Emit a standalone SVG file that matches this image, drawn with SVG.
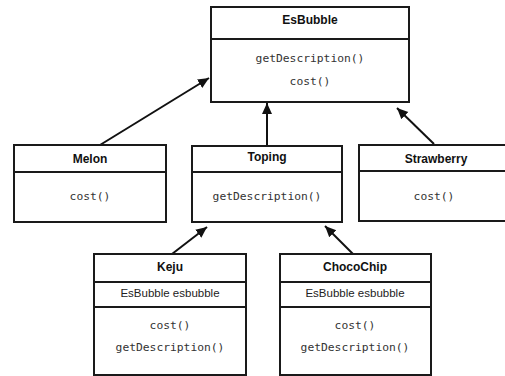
<svg xmlns="http://www.w3.org/2000/svg" width="505" height="376" viewBox="0 0 505 376">
<style>
.box{fill:#fff;stroke:#1a1a1a;stroke-width:2}
.div{stroke:#1a1a1a;stroke-width:2}
.t{font-family:"Liberation Sans",Arial,sans-serif;font-weight:bold;font-size:12px;fill:#111;text-anchor:middle}
.f{font-family:"Liberation Sans",Arial,sans-serif;font-size:11.5px;fill:#222;text-anchor:middle}
.m{font-family:"DejaVu Sans Mono",monospace;font-size:11.3px;fill:#333;text-anchor:middle}
.c{stroke:#111;stroke-width:2;fill:none;marker-end:url(#ah)}
</style>
<defs>
<marker id="ah" markerUnits="userSpaceOnUse" markerWidth="12" markerHeight="12" viewBox="0 0 12 12" refX="11" refY="6" orient="auto">
<path d="M0,1 L11,6 L0,11 Z" fill="#111"/>
</marker>
</defs>
<rect width="505" height="376" fill="#fff"/>
<g id="connectors">
<line class="c" x1="100" y1="145" x2="209" y2="78"/>
<line class="c" x1="267" y1="146" x2="267" y2="103"/>
<line class="c" x1="434" y1="144" x2="397" y2="108"/>
<line class="c" x1="172" y1="254" x2="207" y2="227"/>
<line class="c" x1="353" y1="254" x2="325" y2="226"/>
</g>
<g id="EsBubble">
<rect class="box" x="211" y="7" width="198" height="95"/>
<line class="div" x1="211" y1="39" x2="409" y2="39"/>
<text class="t" x="310" y="24">EsBubble</text>
<text class="m" x="310" y="62">getDescription()</text>
<text class="m" x="310" y="85">cost()</text>
</g>
<g id="Melon">
<rect class="box" x="14" y="145" width="152" height="77"/>
<line class="div" x1="14" y1="172" x2="166" y2="172"/>
<text class="t" x="90" y="163">Melon</text>
<text class="m" x="90" y="200">cost()</text>
</g>
<g id="Toping">
<rect class="box" x="192" y="146" width="150" height="76"/>
<line class="div" x1="192" y1="172" x2="342" y2="172"/>
<text class="t" x="267" y="161">Toping</text>
<text class="m" x="267" y="200">getDescription()</text>
</g>
<g id="Strawberry">
<rect class="box" x="359" y="145" width="154" height="76"/>
<line class="div" x1="359" y1="171" x2="513" y2="171"/>
<text class="t" x="436" y="163">Strawberry</text>
<text class="m" x="434" y="200">cost()</text>
</g>
<g id="Keju">
<rect class="box" x="94" y="254" width="152" height="121"/>
<line class="div" x1="94" y1="282" x2="246" y2="282"/>
<line class="div" x1="94" y1="307" x2="246" y2="307"/>
<text class="t" x="170" y="271">Keju</text>
<text class="f" x="170" y="297">EsBubble esbubble</text>
<text class="m" x="170" y="329">cost()</text>
<text class="m" x="170" y="351">getDescription()</text>
</g>
<g id="ChocoChip">
<rect class="box" x="280" y="254" width="151" height="121"/>
<line class="div" x1="280" y1="282" x2="431" y2="282"/>
<line class="div" x1="280" y1="307" x2="431" y2="307"/>
<text class="t" x="355" y="271">ChocoChip</text>
<text class="f" x="355" y="297">EsBubble esbubble</text>
<text class="m" x="355" y="329">cost()</text>
<text class="m" x="355" y="351">getDescription()</text>
</g>
</svg>
